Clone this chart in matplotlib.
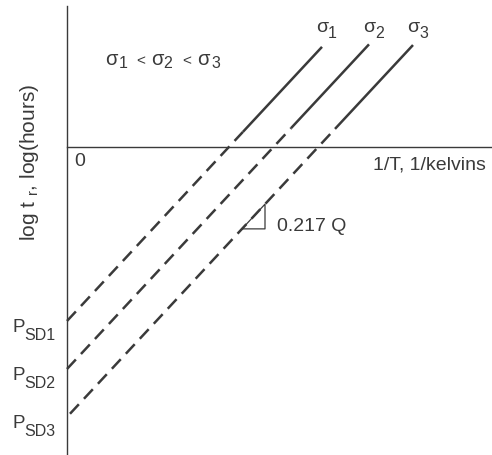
import numpy as np
import matplotlib
matplotlib.use("Agg")
import matplotlib.pyplot as plt

plt.rcParams['font.family'] = ['Liberation Sans', 'DejaVu Sans']
plt.rcParams['mathtext.fontset'] = 'custom'
plt.rcParams['mathtext.rm'] = 'Liberation Sans'
plt.rcParams['mathtext.it'] = 'Liberation Sans'
plt.rcParams['mathtext.bf'] = 'Liberation Sans:bold'

# Larson-Miller style lines: log t_r = P_SD + slope * (1/T)
stress_subs = ['1', '2', '3']
p_subs = ['SD1', 'SD2', 'SD3']
p_sd = [-17.4, -22.2, -27.0]          # intercepts on the log t axis
slope = 1.075                         # 0.217 Q
x_dash_start = [0.0, 0.0, 0.3]
x_solid_start = [17.6, 22.4, 26.8]
x_end = [25.5, 30.2, 34.6]
tri_x = [17.5, 19.8]                  # slope triangle on the sigma_3 line

ink = '#3a3a3a'

fig = plt.figure(figsize=(4.92, 4.56), dpi=100)
ax = fig.add_axes([0, 0, 1, 1])
ax.set_xlim(-6.7, 42.5)
ax.set_ylim(-30.8, 14.8)
ax.axis('off')


def txt(x, y, s, size, **kw):
    ax.text(x, y, s, fontsize=size, color=ink, ha='left', va='baseline', **kw)


# axes through the origin
ax.plot([0, 0], [14.1, -30.8], color=ink, lw=1.0)
ax.plot([0, 42.5], [0, 0], color=ink, lw=1.0)

for i in range(3):
    xd = np.array([x_dash_start[i], x_solid_start[i]])
    xs = np.array([x_solid_start[i], x_end[i]])
    ax.plot(xd, p_sd[i] + slope * xd, color=ink, lw=1.8,
            dashes=(5.2, 3.0), dash_capstyle='butt')
    ax.plot(xs, p_sd[i] + slope * xs, color=ink, lw=1.8,
            solid_capstyle='butt')
    # sigma label above each line
    txt(x_end[i] - 0.6, 11.6, '\u03c3', 14)
    txt(x_end[i] + 0.6, 11.0, stress_subs[i], 11.5)
    # P_SD label at the intercept
    txt(-5.45, p_sd[i] - 1.0, 'P', 13.5)
    txt(-4.3, p_sd[i] - 1.85, p_subs[i], 11.5)

# slope triangle
ty = [p_sd[2] + slope * tx for tx in tri_x]
ax.plot([tri_x[0], tri_x[1], tri_x[1], tri_x[0]],
        [ty[0], ty[0], ty[1], ty[0]], color=ink, lw=0.9)
txt(21.0, -8.3, '0.217 Q', 14)

# sigma_1 < sigma_2 < sigma_3
txt(3.85, 8.3, '\u03c3', 14.5)
txt(5.15, 8.05, '1', 11.5)
txt(6.9, 8.3, '<', 11)
txt(8.45, 8.3, '\u03c3', 14.5)
txt(9.65, 8.05, '2', 11.5)
txt(11.5, 8.3, '<', 11)
txt(13.05, 8.3, '\u03c3', 14.5)
txt(14.45, 8.05, '3', 11.5)

ax.text(0.75, -1.4, '0', fontsize=14, color=ink, ha='left', va='center')
ax.text(30.6, -1.75, '1/T, 1/kelvins', fontsize=14, color=ink,
        ha='left', va='center')
ax.text(-3.75, -1.4, r'log t $_r$, log(hours)', fontsize=15, color=ink,
        rotation=90, ha='center', va='center')

fig.savefig('out.png', dpi=100)
